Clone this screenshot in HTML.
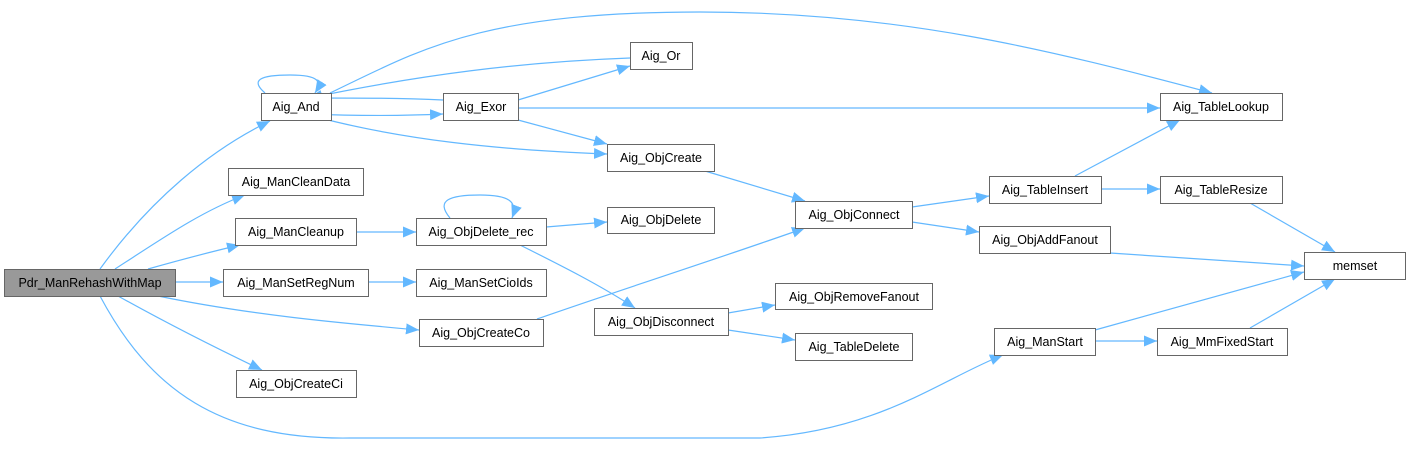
<!DOCTYPE html>
<html><head><meta charset="utf-8"><style>
body{margin:0;background:#fff;}
svg text{font-family:"Liberation Sans",Arial,sans-serif;font-size:12.5px;fill:#000;}
</style></head><body>
<svg width="1409" height="446" viewBox="0 0 1409 446" xmlns="http://www.w3.org/2000/svg">
<defs><marker id="a" markerUnits="userSpaceOnUse" markerWidth="14" markerHeight="12" refX="13" refY="5.5" orient="auto"><path d="M0,0 L13,5.5 L0,11 z" fill="#63b8ff"/></marker></defs>
<g fill="none" stroke="#63b8ff" stroke-width="1.2" marker-end="url(#a)">
<path d="M100,269 C150,200 210,150 270,121"/>
<path d="M115,269 C160,240 200,212 245,195"/>
<path d="M148,269 C180,260 210,252 240,245"/>
<path d="M176,282 L223,282"/>
<path d="M158,296 C250,315 340,323 419,330"/>
<path d="M118,296 C170,325 220,350 262,370"/>
<path d="M100,296 C150,390 220,440 350,438 L760,438 C880,430 940,380 1003,355"/>
<path d="M265,93 C250,80 260,75 290,75 C320,75 322,82 315,93"/>
<path d="M309,114 C360,116 400,116 443,114"/>
<path d="M443,100 C400,98 360,98 309,98"/>
<path d="M630,58 C520,62 420,75 309,98"/>
<path d="M309,115 C400,140 500,150 607,154"/>
<path d="M518,100 L630,66"/>
<path d="M518,120 L607,144"/>
<path d="M518,108 L1160,108"/>
<path d="M330,93 C420,50 480,12 700,12 C900,12 1050,50 1212,93"/>
<path d="M705,171 L805,201"/>
<path d="M912,207 L989,196"/>
<path d="M912,222 L979,232"/>
<path d="M1075,176 L1180,120"/>
<path d="M1101,189 L1160,189"/>
<path d="M1250,203 L1335,252"/>
<path d="M1110,253 L1304,266"/>
<path d="M1095,330 L1304,272"/>
<path d="M1250,328 L1335,279"/>
<path d="M1095,341 L1157,341"/>
<path d="M356,232 L416,232"/>
<path d="M450,218 C435,200 450,195 480,195 C510,195 518,202 512,218"/>
<path d="M546,227 L607,222"/>
<path d="M520,245 C560,265 600,285 635,308"/>
<path d="M537,319 C620,290 720,258 805,228"/>
<path d="M728,313 L775,305"/>
<path d="M728,330 L795,340"/>
<path d="M368,282 L416,282"/>
</g>
<g stroke="#666" stroke-width="1" fill="#fff">
<rect x="4.5" y="269.5" width="171" height="27" fill="#999"/>
<rect x="261.5" y="93.5" width="70" height="27"/>
<rect x="228.5" y="168.5" width="135" height="27"/>
<rect x="235.5" y="218.5" width="121" height="27"/>
<rect x="223.5" y="269.5" width="145" height="27"/>
<rect x="236.5" y="370.5" width="120" height="27"/>
<rect x="443.5" y="93.5" width="75" height="27"/>
<rect x="416.5" y="218.5" width="130" height="27"/>
<rect x="416.5" y="269.5" width="130" height="27"/>
<rect x="419.5" y="319.5" width="124" height="27"/>
<rect x="630.5" y="42.5" width="62" height="27"/>
<rect x="607.5" y="144.5" width="107" height="27"/>
<rect x="607.5" y="207.5" width="107" height="26"/>
<rect x="795.5" y="201.5" width="117" height="27"/>
<rect x="594.5" y="308.5" width="134" height="27"/>
<rect x="775.5" y="283.5" width="157" height="26"/>
<rect x="795.5" y="333.5" width="117" height="27"/>
<rect x="989.5" y="176.5" width="112" height="27"/>
<rect x="979.5" y="226.5" width="131" height="27"/>
<rect x="994.5" y="328.5" width="101" height="27"/>
<rect x="1160.5" y="93.5" width="122" height="27"/>
<rect x="1160.5" y="176.5" width="122" height="27"/>
<rect x="1157.5" y="328.5" width="130" height="27"/>
<rect x="1304.5" y="252.5" width="101" height="27"/>
</g>
<g text-anchor="middle">
<text x="90" y="287">Pdr_ManRehashWithMap</text>
<text x="296" y="111">Aig_And</text>
<text x="296" y="186">Aig_ManCleanData</text>
<text x="296" y="236">Aig_ManCleanup</text>
<text x="296" y="287">Aig_ManSetRegNum</text>
<text x="296" y="388">Aig_ObjCreateCi</text>
<text x="481" y="111">Aig_Exor</text>
<text x="481" y="236">Aig_ObjDelete_rec</text>
<text x="481" y="287">Aig_ManSetCioIds</text>
<text x="481" y="337">Aig_ObjCreateCo</text>
<text x="661" y="60">Aig_Or</text>
<text x="661" y="162">Aig_ObjCreate</text>
<text x="661" y="224">Aig_ObjDelete</text>
<text x="854" y="219">Aig_ObjConnect</text>
<text x="661" y="326">Aig_ObjDisconnect</text>
<text x="854" y="301">Aig_ObjRemoveFanout</text>
<text x="854" y="351">Aig_TableDelete</text>
<text x="1045" y="194">Aig_TableInsert</text>
<text x="1045" y="244">Aig_ObjAddFanout</text>
<text x="1045" y="346">Aig_ManStart</text>
<text x="1221" y="111">Aig_TableLookup</text>
<text x="1221" y="194">Aig_TableResize</text>
<text x="1222" y="346">Aig_MmFixedStart</text>
<text x="1355" y="270">memset</text>
</g>
</svg>
</body></html>
